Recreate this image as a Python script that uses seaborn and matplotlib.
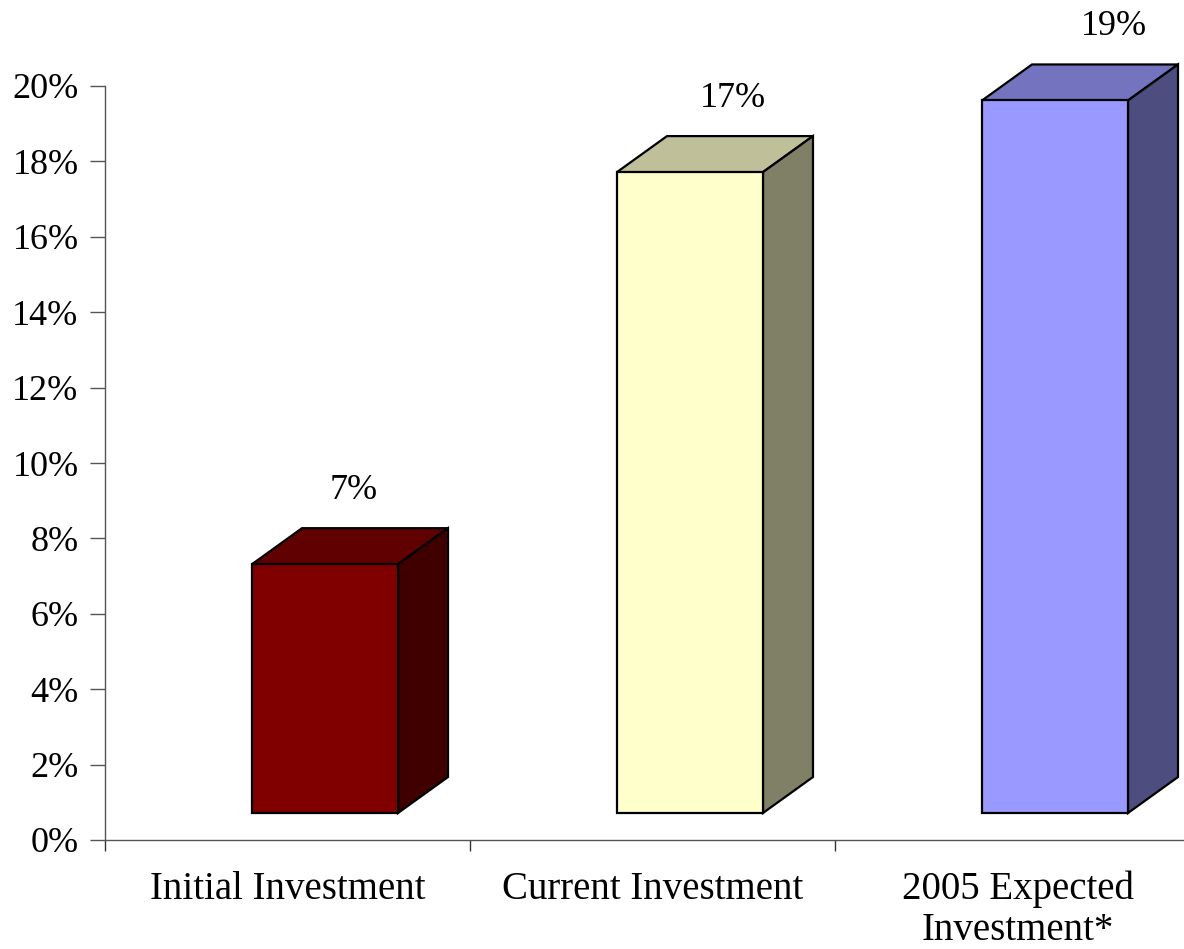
import numpy as np
import matplotlib
matplotlib.use('Agg')
import matplotlib.pyplot as plt
from matplotlib.patches import Polygon
from matplotlib.transforms import ScaledTranslation
import seaborn as sns

# data
categories = ['Initial Investment', 'Current Investment', '2005 Expected\nInvestment*']
values = [6.6, 17.0, 18.9]
value_labels = ['7%', '17%', '19%']
yticks = list(range(0, 21, 2))

front_colors = ['#800000', '#FFFFCC', '#9999FF']
top_colors = ['#600000', '#BFBF99', '#7373BF']
side_colors = ['#400000', '#808066', '#4D4D80']

sns.set_theme(style='white')
plt.rcParams['font.family'] = ['Liberation Serif', 'DejaVu Serif']
plt.rcParams['text.color'] = 'black'
plt.rcParams['xtick.color'] = 'black'
plt.rcParams['ytick.color'] = 'black'

fig = plt.figure(figsize=(11.84, 9.49), dpi=100)
ax = fig.add_axes([105 / 1184, (949 - 840) / 949, 1095 / 1184, 754 / 949])

sns.barplot(x=categories, y=values, hue=categories, palette=front_colors, legend=False,
            width=0.4, edgecolor='black', linewidth=1.6, saturation=1, ax=ax)
ax.set_xlim(-0.5, 2.5)
ax.set_ylim(0, 20)

# 3d look: depth vector in pixels, front face sits 0.75 of the way back
depth = np.array([50.0, 36.0])
k_front = 0.75
shift = ScaledTranslation(k_front * depth[0] / fig.dpi, k_front * depth[1] / fig.dpi, fig.dpi_scale_trans)
label_dx = [4, 18, 34]

for i, patch in enumerate(ax.patches):
    patch.set_transform(ax.transData + shift)
    patch.set_clip_on(False)
    x0, w, h = patch.get_x(), patch.get_width(), patch.get_height()
    corners = ax.transData.transform([(x0, 0), (x0 + w, 0), (x0 + w, h), (x0, h)])
    bl, br, tr, tl = corners + k_front * depth
    top = [tl, tr, tr + depth, tl + depth]
    side = [br, br + depth, tr + depth, tr]
    for pts, col in [(top, top_colors[i]), (side, side_colors[i])]:
        ax.add_patch(Polygon(pts, closed=True, facecolor=col, edgecolor='black', linewidth=1.6,
                             joinstyle='miter', transform=None, clip_on=False, zorder=0.9))
    ax.annotate(value_labels[i], xy=(x0 + w / 2, h),
                xytext=(1.25 * depth[0] + label_dx[i], 1.75 * depth[1] + 29),
                textcoords='offset pixels', ha='center', va='baseline', fontsize=26,
                color='black', annotation_clip=False)

# axes styling
for s in ['top', 'right']:
    ax.spines[s].set_visible(False)
for s in ['left', 'bottom']:
    ax.spines[s].set_color('#555555')
    ax.spines[s].set_linewidth(1.0)

ax.set_yticks(yticks)
ax.set_yticklabels([f'{t}%' for t in yticks], fontsize=26, color='black')
ax.tick_params(axis='y', direction='out', length=11, width=1, color='#555555', pad=8, left=True)

ax.set_xticks([0, 1, 2])
ax.set_xticklabels(categories, fontsize=28, color='black', linespacing=1.15)
ax.set_xticks([-0.5, 0.5, 1.5, 2.5], minor=True)
ax.tick_params(axis='x', which='major', length=0, pad=22)
ax.tick_params(axis='x', which='minor', direction='out', length=8, width=1, color='#333333', bottom=True)
ax.set_xlabel('')
ax.set_ylabel('')

fig.savefig('out.png', dpi=100)
